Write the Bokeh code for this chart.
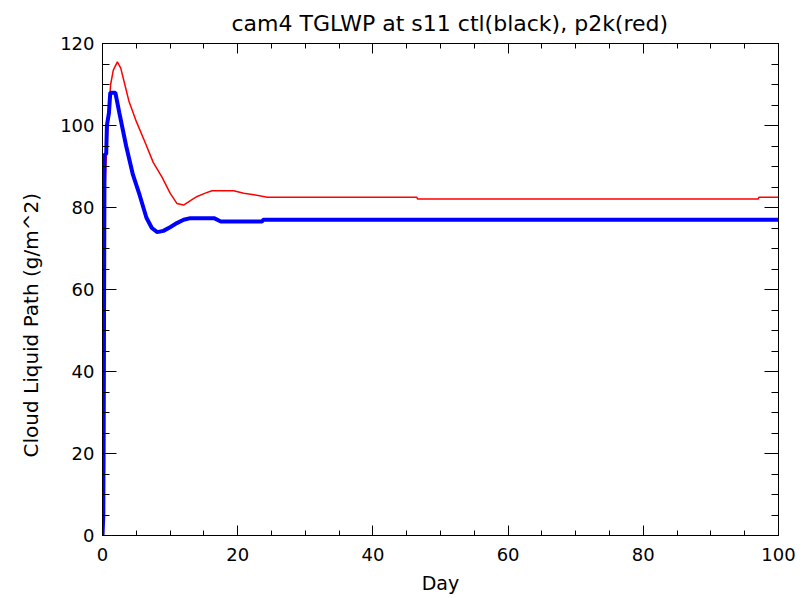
from bokeh.plotting import figure
from bokeh.models import Range1d, LinearAxis, SingleIntervalTicker, Title
from bokeh.embed import file_html
from bokeh.resources import INLINE

# ---- data ----
title_text = "cam4 TGLWP at s11 ctl(black), p2k(red)"
x_label = "Day"
y_label = "Cloud Liquid Path (g/m^2)"

ctl_day = [0, 0.12, 0.2, 0.3, 0.55, 0.65, 0.95, 1.15, 1.9, 2.5, 3.5, 4.5, 5.5, 6.5,
           7.3, 8.1, 9.0, 10.0, 11.0, 12.0, 13.0, 16.5, 17.5, 23.6, 23.8, 100]
ctl_lwp = [0, 5, 40, 93, 93, 100, 103, 108, 108, 103, 95, 88, 83, 77.5,
           75, 74, 74.3, 75.2, 76.2, 77, 77.4, 77.4, 76.6, 76.6, 77.0, 77.0]

p2k_day = [0, 0.05, 0.15, 0.28, 0.33, 0.5, 0.8, 1.2, 1.6, 2.2, 2.7, 3.3, 3.9, 5.0,
           6.4, 7.5, 8.8, 10.0, 11.0, 12.0, 13.0, 14.0, 15.2, 16.2, 19.4, 20.9,
           22.4, 24.4, 46.5, 46.6, 97.0, 97.1, 100]
p2k_lwp = [0, 2, 10, 16, 83, 90, 100, 110, 113.5, 115.5, 114, 110, 106, 101,
           95.5, 91, 87.4, 83.5, 81, 80.6, 81.7, 82.7, 83.5, 84.1, 84.1, 83.5,
           83.1, 82.5, 82.5, 82.1, 82.1, 82.5, 82.5]

x_start, x_end, x_step = 0, 100, 20
y_start, y_end, y_step = 0, 120, 20

FONT = "DejaVu Sans"

p = figure(width=807, height=598, output_backend="svg", toolbar_location=None,
           x_range=Range1d(x_start, x_end), y_range=Range1d(y_start, y_end),
           x_axis_type=None, y_axis_type=None,
           min_border_left=102, min_border_right=29, min_border_top=43,
           min_border_bottom=63)
p.background_fill_color = "white"
p.border_fill_color = "white"
p.outline_line_color = "black"
p.xgrid.visible = False
p.ygrid.visible = False

p.title.text = title_text
p.title.align = "left"
p.title.offset = 129
p.title.text_font = FONT
p.title.text_font_size = "22px"
p.title.text_font_style = "normal"
p.title.text_color = "black"
p.title.standoff = 15


def style_axis(ax, tick_in, minor_in, show_labels):
    ax.axis_line_color = "black"
    ax.axis_line_width = 1
    ax.major_tick_in = tick_in
    ax.major_tick_out = 0
    ax.minor_tick_in = minor_in
    ax.minor_tick_out = 0
    ax.major_tick_line_color = "black"
    ax.minor_tick_line_color = "black"
    ax.major_label_text_font = FONT
    ax.major_label_text_font_size = "18px" if show_labels else "0px"
    ax.major_label_text_color = "black" if show_labels else None
    ax.axis_label_text_font = FONT
    ax.axis_label_text_font_size = "19px"
    ax.axis_label_text_font_style = "normal"
    ax.axis_label_text_color = "black"


xt = SingleIntervalTicker(interval=x_step, num_minor_ticks=4)
yt = SingleIntervalTicker(interval=y_step, num_minor_ticks=4)

xb = LinearAxis(ticker=xt, axis_label=x_label)
style_axis(xb, 10, 5, True)
xb.major_label_standoff = 12
xb.axis_label_standoff = 8
p.add_layout(xb, "below")

xa = LinearAxis(ticker=xt)
style_axis(xa, 10, 5, False)
xa.major_label_standoff = 0
p.add_layout(xa, "above")

yl = LinearAxis(ticker=yt)
style_axis(yl, 14, 7, True)
yl.major_label_standoff = 8
p.add_layout(yl, "left")

yr = LinearAxis(ticker=yt)
style_axis(yr, 14, 7, False)
yr.major_label_standoff = 0
p.add_layout(yr, "right")

ytitle = Title(text=y_label, align="left", offset=78, standoff=30,
               text_font=FONT, text_font_size="20px", text_font_style="normal",
               text_color="black")
p.add_layout(ytitle, "left")

p.line(p2k_day, p2k_lwp, line_color="#ff0000", line_width=1.5)
p.line(ctl_day, ctl_lwp, line_color="#0000ff", line_width=4)

open("out.html", "w").write(file_html(p, INLINE))
